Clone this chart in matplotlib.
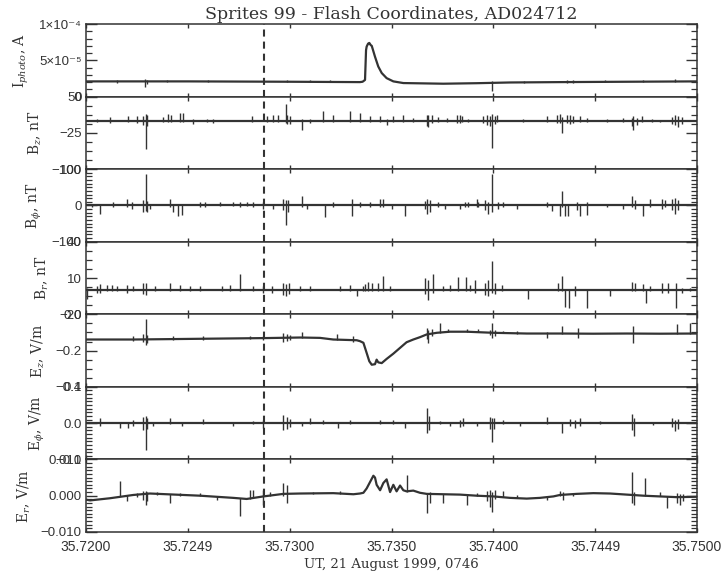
import matplotlib
matplotlib.use("Agg")
import matplotlib.pyplot as plt
import numpy as np

plt.rcParams['font.family'] = ['Liberation Sans', 'DejaVu Sans']
plt.rcParams['mathtext.fontset'] = 'dejavuserif'

# ---------------- data ----------------
x_ticks = [35.7200, 35.7250, 35.7300, 35.7350, 35.7400, 35.7450, 35.7500]
x_ticklabels = ["35.7200", "35.7249", "35.7300", "35.7350", "35.7400", "35.7449", "35.7500"]
t_flash = 35.72872

# Panel 1: photometer current (A)
t_iph = [35.72000, 35.72500, 35.73000, 35.73345, 35.73358, 35.73370, 35.73375, 35.73378,
         35.73385, 35.73391, 35.73398, 35.73403, 35.73419, 35.73435, 35.73452, 35.73476,
         35.73509, 35.73558, 35.73755, 35.73918, 35.74082, 35.74327, 35.74655, 35.75000]
v_iph = [2.1e-5, 2.1e-5, 2.05e-5, 2.0e-5, 2.05e-5, 2.3e-5, 6.4e-5, 6.9e-5,
         7.3e-5, 7.4e-5, 7.1e-5, 7.0e-5, 5.5e-5, 4.15e-5, 3.25e-5, 2.55e-5,
         2.1e-5, 1.87e-5, 1.78e-5, 1.85e-5, 1.95e-5, 2.0e-5, 2.05e-5, 2.1e-5]
ts_iph = [35.72150, 35.72290, 35.72300, 35.72400, 35.72600, 35.72985, 35.73100, 35.73200,
          35.73995, 35.74150, 35.74360, 35.74393, 35.74550, 35.74737, 35.74892]
lo_iph = [1.9e-5, 1.3e-5, 1.8e-5, 1.95e-5, 1.95e-5, 2.0e-5, 1.95e-5, 1.95e-5,
          0.75e-5, 1.9e-5, 1.9e-5, 1.9e-5, 1.95e-5, 2.0e-5, 2.0e-5]
hi_iph = [2.3e-5, 2.45e-5, 2.35e-5, 2.3e-5, 2.3e-5, 2.35e-5, 2.25e-5, 2.25e-5,
          2.1e-5, 2.2e-5, 2.35e-5, 2.3e-5, 2.25e-5, 2.3e-5, 2.4e-5]

# Panel 2: B_z (nT)
t_bz = [35.72000, 35.75000]
v_bz = [0.0, 0.0]
ts_bz = [35.72052, 35.72118, 35.72208, 35.72249, 35.72282, 35.72293, 35.72298, 35.72380,
         35.72404, 35.72416, 35.72462, 35.72475, 35.72527, 35.72593, 35.72625, 35.72813,
         35.72887, 35.72920, 35.72944, 35.72982, 35.72989, 35.73002, 35.73059, 35.73100,
         35.73165, 35.73214, 35.73296, 35.73345, 35.73394, 35.73444, 35.73476, 35.73509,
         35.73558, 35.73607, 35.73673, 35.73681, 35.73697, 35.73730, 35.73771, 35.73820,
         35.73836, 35.73844, 35.73877, 35.73951, 35.73967, 35.73984, 35.73995, 35.74008,
         35.74016, 35.74147, 35.74262, 35.74311, 35.74327, 35.74336, 35.74360, 35.74376,
         35.74393, 35.74426, 35.74458, 35.74557, 35.74638, 35.74679, 35.74687, 35.74704,
         35.74728, 35.74778, 35.74818, 35.74876, 35.74892, 35.74909, 35.74925]
lo_bz = [-2, -5, -3, -5, -8, -58, -10, -3, -2, -3, -2, -3, -7, -3, -4, -2,
         -3, -2, -3, -4, -7, -6, -18, -4, -2, -3, -2, -3, -2, -3, -8, -2,
         -3, -2, -10, -12, -5, -3, -2, -4, -5, -3, -2, -4, -8, -11, -56, -6,
         -3, -3, -2, -4, -4, -25, -5, -6, -4, -2, -3, -2, -3, -10, -18, -8,
         -3, -2, -3, -6, -9, -12, -7]
hi_bz = [4, 7, 10, 9, 10, 14, 12, 7, 14, 12, 17, 17, 3, 4, 3, 10,
         10, 13, 13, 35, 12, 10, 3, 4, 20, 13, 20, 17, 9, 9, 3, 9,
         12, 6, 12, 13, 11, 7, 6, 12, 12, 10, 4, 9, 12, 9, 14, 10,
         12, 3, 9, 11, 14, 7, 11, 13, 9, 9, 6, 3, 6, 5, 9, 5,
         9, 4, 2, 8, 12, 10, 8]

# Panel 3: B_phi (nT)
t_bp = [35.72000, 35.75000]
v_bp = [0.0, 0.0]
ts_bp = [35.72028, 35.72069, 35.72134, 35.72200, 35.72224, 35.72282, 35.72293, 35.72301,
         35.72314, 35.72412, 35.72429, 35.72453, 35.72470, 35.72560, 35.72584, 35.72658,
         35.72723, 35.72756, 35.72789, 35.72822, 35.72871, 35.72920, 35.72969, 35.72982,
         35.72994, 35.73059, 35.73084, 35.73174, 35.73214, 35.73304, 35.73345, 35.73394,
         35.73444, 35.73457, 35.73501, 35.73566, 35.73664, 35.73673, 35.73689, 35.73730,
         35.73763, 35.73836, 35.73861, 35.73877, 35.73918, 35.73926, 35.73959, 35.73976,
         35.73995, 35.74025, 35.74049, 35.74115, 35.74262, 35.74286, 35.74327, 35.74336,
         35.74352, 35.74368, 35.74409, 35.74426, 35.74458, 35.74557, 35.74638, 35.74679,
         35.74696, 35.74737, 35.74769, 35.74827, 35.74843, 35.74876, 35.74892, 35.74909]
lo_bp = [-5, -23, -3, -3, -9, -18, -15, -18, -9, -3, -18, -28, -26, -3, -3, -2,
         -2, -3, -2, -3, -9, -9, -12, -55, -18, -3, -9, -32, -3, -28, -3, -5,
         -3, -5, -9, -28, -9, -23, -18, -5, -9, -9, -3, -3, -3, -3, -12, -23,
         -18, -9, -5, -9, -3, -14, -28, -3, -28, -30, -12, -28, -26, -5, -9, -3,
         -9, -28, -3, -9, -5, -12, -23, -12]
hi_bp = [5, 3, 9, 18, 9, 14, 88, 12, 5, 18, 3, 2, 2, 9, 9, 9,
         9, 9, 9, 9, 9, 3, 18, 15, 14, 26, 3, 3, 9, 18, 9, 9,
         18, 18, 3, 3, 12, 18, 14, 9, 5, 3, 9, 9, 18, 9, 14, 10,
         88, 9, 9, 3, 9, 3, 5, 40, 3, 3, 9, 5, 9, 2, 3, 25,
         14, 3, 18, 18, 14, 18, 20, 14]

# Panel 4: B_r (nT)
t_br = [35.72000, 35.75000]
v_br = [0.0, 0.0]
ts_br = [35.72006, 35.72052, 35.72069, 35.72102, 35.72126, 35.72151, 35.72200, 35.72232,
         35.72282, 35.72293, 35.72339, 35.72412, 35.72462, 35.72511, 35.72560, 35.72666,
         35.72707, 35.72756, 35.72822, 35.72871, 35.72912, 35.72969, 35.72982, 35.72995,
         35.73051, 35.73100, 35.73247, 35.73296, 35.73329, 35.73362, 35.73370, 35.73386,
         35.73403, 35.73435, 35.73460, 35.73493, 35.73664, 35.73681, 35.73702, 35.73755,
         35.73787, 35.73828, 35.73866, 35.73885, 35.73910, 35.73959, 35.73976, 35.73995,
         35.74008, 35.74041, 35.74172, 35.74319, 35.74336, 35.74352, 35.74373, 35.74401,
         35.74458, 35.74573, 35.74679, 35.74696, 35.74737, 35.74750, 35.74769, 35.74827,
         35.74859, 35.74897, 35.74925, 35.74966]
lo_br = [-7.7, -2, -2, -1, -1, -1, -2, -1, -3, -4, -1, -1, -1, -1, -1, -1,
         -1, -1, -1, -2, -2.5, -4, -5, -3, -1, -1, -1, -1, -5, -1, -1, -1,
         -1, -1, -1, -1, -3, -8, -2, -1, -1, -1, -1, -1, -2, -4, -5, -2,
         -3, -1, -7, -1, -1, -14, -15, -5, -14.5, -4.5, -1, -1, -1, -11, -1, -2,
         -2, -15, -2, -1]
hi_br = [2, 3, 5, 4.5, 4, 3, 4.5, 3, 6, 6, 3, 5.5, 4, 3, 3, 3,
         4.5, 13, 3, 3, 3, 6, 5, 6, 3, 3, 3, 4.5, 1, 3, 5, 7,
         6, 6, 11.5, 3, 10, 8, 13, 3, 4.5, 11, 11, 4.5, 8, 6, 8, 24,
         6, 4.5, 1, 6, 12, 1, 1, 3, 1, 1, 7, 6, 5, 1, 3, 6,
         6, 6, 2, 2]

# Panel 5: E_z (V/m)
t_ez = [35.72000, 35.72232, 35.72560, 35.72887, 35.73051, 35.73149, 35.73214, 35.73329,
        35.73345, 35.73362, 35.73378, 35.73391, 35.73403, 35.73419, 35.73427, 35.73435,
        35.73452, 35.73476, 35.73509, 35.73542, 35.73574, 35.73607, 35.73640, 35.73673,
        35.73722, 35.73787, 35.73869, 35.74000, 35.74164, 35.74327, 35.74491, 35.74655,
        35.74818, 35.75000]
v_ez = [-0.139, -0.139, -0.135, -0.131, -0.128, -0.130, -0.139, -0.143,
        -0.148, -0.157, -0.213, -0.259, -0.278, -0.275, -0.250, -0.265,
        -0.269, -0.246, -0.217, -0.185, -0.154, -0.139, -0.126, -0.111,
        -0.102, -0.096, -0.096, -0.102, -0.106, -0.106, -0.107, -0.106,
        -0.107, -0.106]
ts_ez = [35.72232, 35.72282, 35.72293, 35.72301, 35.72429, 35.72576, 35.72805, 35.72871,
         35.72969, 35.72985, 35.73002, 35.73059, 35.73231, 35.73313, 35.73673, 35.73681,
         35.73697, 35.73738, 35.73779, 35.73869, 35.73926, 35.73984, 35.73995, 35.74008,
         35.74049, 35.74115, 35.74262, 35.74336, 35.74417, 35.74687, 35.74900, 35.74966]
lo_ez = [-0.145, -0.155, -0.167, -0.160, -0.143, -0.140, -0.138, -0.140,
         -0.150, -0.145, -0.140, -0.130, -0.140, -0.150, -0.135, -0.160,
         -0.120, -0.105, -0.100, -0.100, -0.100, -0.115, -0.130, -0.120,
         -0.105, -0.106, -0.130, -0.110, -0.130, -0.157, -0.106, -0.106]
hi_ez = [-0.120, -0.110, -0.028, -0.115, -0.120, -0.117, -0.120, -0.120,
         -0.102, -0.110, -0.115, -0.098, -0.111, -0.120, -0.075, -0.085,
         -0.080, -0.050, -0.083, -0.083, -0.083, -0.085, -0.050, -0.085,
         -0.093, -0.093, -0.100, -0.065, -0.075, -0.065, -0.056, -0.050]

# Panel 6: E_phi (V/m)
t_ep = [35.72000, 35.75000]
v_ep = [0.0, 0.0]
ts_ep = [35.72069, 35.72167, 35.72208, 35.72232, 35.72282, 35.72293, 35.72301, 35.72331,
         35.72412, 35.72470, 35.72576, 35.72723, 35.72822, 35.72871, 35.72969, 35.72985,
         35.73002, 35.73059, 35.73100, 35.73165, 35.73239, 35.73296, 35.73444, 35.73509,
         35.73566, 35.73673, 35.73686, 35.73738, 35.73787, 35.73836, 35.73853, 35.73918,
         35.73984, 35.73995, 35.74005, 35.74049, 35.74131, 35.74262, 35.74336, 35.74376,
         35.74401, 35.74426, 35.74524, 35.74679, 35.74691, 35.74786, 35.74876, 35.74892,
         35.74909]
lo_ep = [-0.009, -0.014, -0.014, -0.009, -0.018, -0.075, -0.015, -0.009,
         -0.003, -0.009, -0.003, -0.009, -0.003, -0.014, -0.018, -0.015,
         -0.012, -0.009, -0.003, -0.003, -0.014, -0.003, -0.003, -0.003,
         -0.014, -0.027, -0.020, -0.003, -0.009, -0.012, -0.009, -0.009,
         -0.015, -0.053, -0.015, -0.003, -0.009, -0.003, -0.027, -0.009,
         -0.014, -0.009, -0.003, -0.020, -0.035, -0.005, -0.010, -0.023,
         -0.015]
hi_ep = [0.014, 0.003, 0.003, 0.009, 0.018, 0.020, 0.015, 0.003,
         0.014, 0.003, 0.011, 0.003, 0.007, 0.009, 0.023, 0.018,
         0.012, 0.003, 0.014, 0.009, 0.003, 0.009, 0.009, 0.009,
         0.003, 0.041, 0.020, 0.005, 0.003, 0.010, 0.014, 0.003,
         0.018, 0.015, 0.014, 0.009, 0.003, 0.016, 0.003, 0.012,
         0.009, 0.014, 0.005, 0.026, 0.015, 0.003, 0.014, 0.010,
         0.012]

# Panel 7: E_r (V/m)
t_er = [35.72000, 35.72020, 35.72118, 35.72232, 35.72314, 35.72396, 35.72560, 35.72723,
        35.72789, 35.72871, 35.72969, 35.73051, 35.73214, 35.73313, 35.73345, 35.73362,
        35.73378, 35.73394, 35.73411, 35.73419, 35.73427, 35.73444, 35.73460, 35.73476,
        35.73493, 35.73509, 35.73525, 35.73542, 35.73558, 35.73574, 35.73607, 35.73640,
        35.73673, 35.73755, 35.73836, 35.73918, 35.74000, 35.74082, 35.74164, 35.74229,
        35.74295, 35.74327, 35.74409, 35.74491, 35.74573, 35.74655, 35.74737, 35.74818,
        35.74900, 35.75000]
v_er = [-0.0011, -0.0013, -0.0007, 0.0002, 0.0006, 0.0004, 0.0000, -0.0006,
        -0.0009, -0.0002, 0.0005, 0.0006, 0.0007, 0.0004, 0.0006, 0.0008,
        0.0020, 0.0037, 0.0055, 0.0050, 0.0030, 0.0015, 0.0035, 0.0045,
        0.0010, 0.0030, 0.0012, 0.0028, 0.0015, 0.0012, 0.0014, 0.0008,
        0.0005, 0.0004, 0.0003, 0.0000, -0.0002, -0.0006, -0.0008, -0.0006,
        -0.0002, 0.0002, 0.0005, 0.0007, 0.0006, 0.0003, 0.0000, -0.0002,
        -0.0004, -0.0003]
ts_er = [35.72167, 35.72200, 35.72249, 35.72282, 35.72293, 35.72301, 35.72347, 35.72412,
         35.72462, 35.72560, 35.72642, 35.72756, 35.72805, 35.72822, 35.72871, 35.72903,
         35.72969, 35.72985, 35.73116, 35.73247, 35.73574, 35.73673, 35.73689, 35.73755,
         35.73869, 35.73918, 35.73967, 35.73984, 35.73992, 35.74008, 35.74049, 35.74115,
         35.74262, 35.74327, 35.74344, 35.74393, 35.74679, 35.74691, 35.74745, 35.74818,
         35.74851, 35.74900, 35.74916, 35.74933]
lo_er = [0.0000, -0.0016, -0.0003, -0.0012, -0.0025, -0.0015, 0.0003, -0.0020,
         0.0000, 0.0000, -0.0011, -0.0057, -0.0008, -0.0006, -0.0025, 0.0000,
         0.0000, -0.0020, 0.0005, 0.0005, 0.0010, -0.0048, -0.0020, -0.0020,
         -0.0025, 0.0000, -0.0015, -0.0030, -0.0044, -0.0010, -0.0004, -0.0007,
         -0.0011, 0.0000, -0.0011, 0.0000, -0.0020, -0.0025, 0.0000, -0.0002,
         -0.0035, -0.0020, -0.0025, -0.0015]
hi_er = [0.0040, 0.0002, 0.0008, 0.0012, 0.0014, 0.0010, 0.0010, 0.0004,
         0.0008, 0.0008, 0.0000, -0.0006, 0.0016, 0.0016, 0.0016, 0.0009,
         0.0035, 0.0030, 0.0010, 0.0012, 0.0058, 0.0008, 0.0010, 0.0005,
         0.0004, 0.0008, 0.0012, 0.0015, 0.0010, 0.0016, 0.0012, 0.0002,
         0.0000, 0.0012, 0.0010, 0.0008, 0.0066, 0.0010, 0.0049, 0.0010,
         0.0000, 0.0008, 0.0005, 0.0004]

panels = [
    dict(t=t_iph, v=v_iph, ts=ts_iph, lo=lo_iph, hi=hi_iph, ylim=(0, 1e-4),
         yt=[0, 5e-5, 1e-4], ytl=["0", "5×10⁻⁵", "1×10⁻⁴"], nminor=10,
         label=r"I$_{photo}$, A"),
    dict(t=t_bz, v=v_bz, ts=ts_bz, lo=lo_bz, hi=hi_bz, ylim=(-100, 50),
         yt=[-100, -25, 50], ytl=["−100", "−25", "50"], nminor=8,
         label=r"B$_z$, nT"),
    dict(t=t_bp, v=v_bp, ts=ts_bp, lo=lo_bp, hi=hi_bp, ylim=(-100, 100),
         yt=[-100, 0, 100], ytl=["−100", "0", "100"], nminor=20,
         label=r"B$_\phi$, nT"),
    dict(t=t_br, v=v_br, ts=ts_br, lo=lo_br, hi=hi_br, ylim=(-20, 40),
         yt=[-20, 10, 40], ytl=["−20", "10", "40"], nminor=8,
         label=r"B$_r$, nT"),
    dict(t=t_ez, v=v_ez, ts=ts_ez, lo=lo_ez, hi=hi_ez, ylim=(-0.4, 0.0),
         yt=[-0.4, -0.2, 0.0], ytl=["−0.4", "−0.2", "0.0"], nminor=8,
         label=r"E$_z$, V/m"),
    dict(t=t_ep, v=v_ep, ts=ts_ep, lo=lo_ep, hi=hi_ep, ylim=(-0.1, 0.1),
         yt=[-0.1, 0.0, 0.1], ytl=["−0.1", "0.0", "0.1"], nminor=20,
         label=r"E$_\phi$, V/m"),
    dict(t=t_er, v=v_er, ts=ts_er, lo=lo_er, hi=hi_er, ylim=(-0.010, 0.010),
         yt=[-0.010, 0.0, 0.010], ytl=["−0.010", "0.000", "0.010"], nminor=20,
         label=r"E$_r$, V/m"),
]

# ---------------- figure ----------------
ink = "#333333"
fig, axes = plt.subplots(7, 1, sharex=True, figsize=(7.24, 5.73), dpi=100)
fig.subplots_adjust(left=0.1188, right=0.9627, top=0.958, bottom=0.0716, hspace=0)

for ax, p in zip(axes, panels):
    ax.plot(p["t"], p["v"], color=ink, lw=1.6, solid_joinstyle="round")
    ax.vlines(p["ts"], p["lo"], p["hi"], color=ink, lw=1.0)
    ax.axvline(t_flash, color=ink, lw=1.5, ls=(0, (3.4, 2.4)))
    ax.set_xlim(35.72, 35.75)
    ax.set_ylim(*p["ylim"])
    ax.set_yticks(p["yt"])
    ax.set_yticklabels(p["ytl"])
    ax.set_yticks(np.linspace(p["ylim"][0], p["ylim"][1], p["nminor"] + 1), minor=True)
    ax.set_xticks(x_ticks)
    ax.set_xticks([], minor=True)
    ax.yaxis.set_tick_params(which="major", direction="in", left=True, right=True,
                             length=8, width=1.0, color=ink, labelsize=9.5,
                             labelcolor=ink, pad=3)
    ax.yaxis.set_tick_params(which="minor", direction="in", left=True, right=True,
                             length=4.5, width=0.9, color=ink)
    ax.xaxis.set_tick_params(which="major", direction="in", top=True, bottom=True,
                             length=3, width=1.0, color=ink, labelsize=10,
                             labelcolor=ink, pad=6)
    for s in ax.spines.values():
        s.set_color(ink)
        s.set_linewidth(1.1)
    ax.set_ylabel(p["label"], fontfamily="DejaVu Serif", fontsize=10, color=ink, labelpad=6)

axes[-1].set_xticklabels(x_ticklabels)
axes[-1].set_xlabel("UT, 21 August 1999, 0746", fontfamily="DejaVu Serif",
                    fontsize=9.5, color=ink, labelpad=3)
axes[0].set_title("Sprites 99 - Flash Coordinates, AD024712", fontfamily="DejaVu Serif",
                  fontsize=12.5, color=ink, pad=4)

fig.savefig("out.png", dpi=100, facecolor="white")
